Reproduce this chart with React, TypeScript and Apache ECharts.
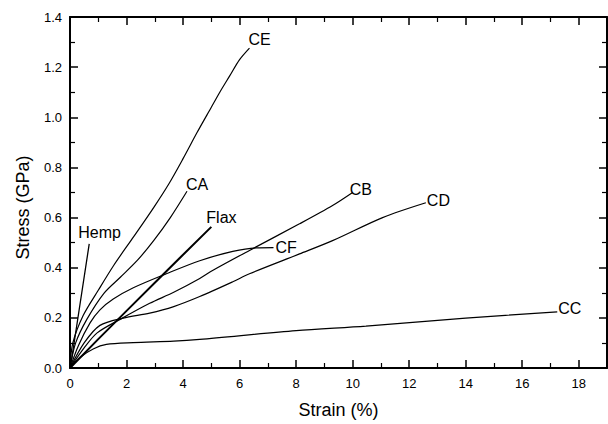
import React, { useEffect, useRef } from "react";
import * as echarts from "echarts";

// Stress-strain curves: [strain %, stress GPa]
const hemp: number[][] = [[0, 0], [0.05, 0.03], [0.68, 0.495]];
const flax: number[][] = [[0, 0], [1, 0.115], [2, 0.228], [3, 0.34], [4, 0.452], [5.0, 0.563]];
const ce: number[][] = [
  [0, 0], [0.1, 0.1], [0.47, 0.21], [1.0, 0.31], [1.55, 0.41], [2.26, 0.525], [2.96, 0.64],
  [3.5, 0.735], [4.0, 0.835], [4.5, 0.94], [5.0, 1.04], [5.3, 1.1], [5.65, 1.165], [6.0, 1.23],
  [6.35, 1.276],
];
const ca: number[][] = [
  [0, 0], [0.2, 0.1], [0.59, 0.193], [1.2, 0.298], [1.79, 0.363], [2.38, 0.429], [2.96, 0.508],
  [3.55, 0.6], [4.14, 0.705],
];
const cf: number[][] = [
  [0, 0], [0.3, 0.09], [0.71, 0.18], [1.06, 0.232], [1.53, 0.275], [2.24, 0.32], [3.41, 0.376],
  [4.59, 0.428], [5.76, 0.465], [6.59, 0.479], [7.2, 0.48],
];
const cb: number[][] = [
  [0, 0], [0.5, 0.08], [0.96, 0.14], [1.79, 0.195], [2.82, 0.258], [3.67, 0.302], [4.59, 0.357],
  [5.06, 0.39], [6.35, 0.469], [8.12, 0.575], [9.29, 0.648], [10.0, 0.7],
];
const cd: number[][] = [
  [0, 0], [0.5, 0.1], [1.06, 0.17], [1.88, 0.199], [2.82, 0.219], [3.67, 0.245], [4.59, 0.285],
  [5.76, 0.344], [6.35, 0.376], [8.12, 0.455], [9.29, 0.508], [11.06, 0.6], [12.59, 0.659],
];
const cc: number[][] = [
  [0, 0], [0.35, 0.042], [0.82, 0.076], [1.29, 0.094], [2.24, 0.101], [3.67, 0.107], [4.59, 0.114],
  [8.0, 0.149], [10.47, 0.167], [14.0, 0.199], [17.24, 0.224],
];

const seriesNames = ["Hemp", "Flax", "CE", "CA", "CF", "CB", "CD", "CC"];
const seriesData = [hemp, flax, ce, ca, cf, cb, cd, cc];
const labelOffsets: number[][] = [
  [-11, -11], [-5, -9], [-1, -9], [-1, -7], [2, 0], [-3, -3], [1, -2], [1, -3],
];
const lineWidths = [1.3, 2, 1.2, 1.2, 1.2, 1.2, 1.2, 1.2];

const FONT = "'Liberation Sans', Arial, Helvetica, sans-serif";

function makeTick() {
  return { show: true, inside: true, length: 8, lineStyle: { color: "#000", width: 1.5 } };
}
function makeMinor() {
  return { show: true, splitNumber: 2, length: 5, lineStyle: { color: "#000", width: 1.2 } };
}
function makeLine() {
  return { show: true, onZero: false, lineStyle: { color: "#000", width: 2 } };
}

export default function App() {
  const ref = useRef<HTMLDivElement>(null);
  useEffect(() => {
    if (!ref.current) return;
    const chart = echarts.init(ref.current, undefined, { renderer: "svg" });
    chart.setOption({
      animation: false,
      backgroundColor: "#fff",
      textStyle: { fontFamily: FONT },
      grid: { left: 70, right: 1, top: 17, bottom: 52 },
      xAxis: [
        {
          type: "value",
          position: "bottom",
          min: 0,
          max: 19,
          interval: 2,
          axisLine: makeLine(),
          axisTick: makeTick(),
          minorTick: makeMinor(),
          splitLine: { show: false },
          name: "Strain (%)",
          nameLocation: "middle",
          nameGap: 33,
          nameTextStyle: { fontSize: 18, color: "#000", fontFamily: FONT },
          axisLabel: { show: true, fontSize: 13, color: "#000", margin: 9, showMaxLabel: false, fontFamily: FONT },
        },
        {
          type: "value",
          position: "top",
          min: 0,
          max: 19,
          interval: 2,
          axisLine: makeLine(),
          axisTick: makeTick(),
          minorTick: makeMinor(),
          splitLine: { show: false },
          axisLabel: { show: false },
        },
      ],
      yAxis: [
        {
          type: "value",
          position: "left",
          min: 0,
          max: 1.4,
          interval: 0.2,
          axisLine: makeLine(),
          axisTick: makeTick(),
          minorTick: makeMinor(),
          splitLine: { show: false },
          name: "Stress (GPa)",
          nameLocation: "middle",
          nameGap: 38,
          nameRotate: 90,
          nameTextStyle: { fontSize: 18, color: "#000", fontFamily: FONT, padding: [0, 30, 0, 0] },
          axisLabel: {
            show: true,
            fontSize: 13,
            color: "#000",
            margin: 8,
            fontFamily: FONT,
            formatter: (v: number) => v.toFixed(1),
          },
        },
        {
          type: "value",
          position: "right",
          min: 0,
          max: 1.4,
          interval: 0.2,
          axisLine: makeLine(),
          axisTick: makeTick(),
          minorTick: makeMinor(),
          splitLine: { show: false },
          axisLabel: { show: false },
        },
      ],
      series: seriesNames.map((name, i) => ({
        name,
        type: "line",
        data: seriesData[i],
        xAxisIndex: 0,
        yAxisIndex: 0,
        symbol: "none",
        smooth: i < 2 ? false : 0.3,
        lineStyle: { color: "#000", width: lineWidths[i] },
        endLabel: {
          show: true,
          formatter: name,
          distance: 0,
          offset: labelOffsets[i],
          fontSize: 16,
          color: "#000",
          fontFamily: FONT,
          align: "left",
          verticalAlign: "middle",
        },
      })),
    });
    return () => chart.dispose();
  }, []);
  return (
    <div
      ref={ref}
      style={{ position: "fixed", left: 0, top: 0, width: 608, height: 424, background: "#fff" }}
    />
  );
}
